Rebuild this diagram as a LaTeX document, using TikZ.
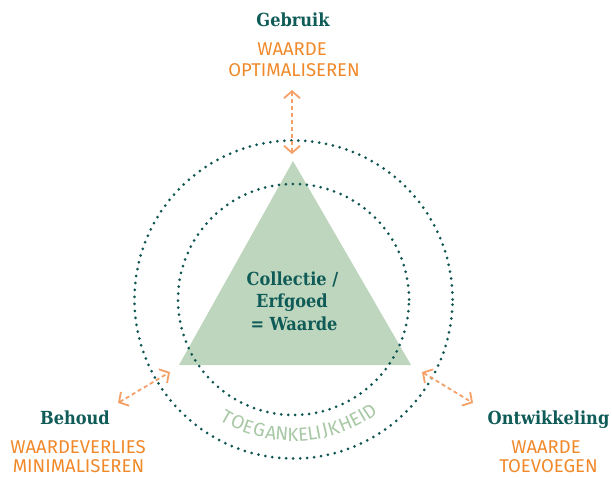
\documentclass[tikz,border=0pt]{standalone}
\usepackage{fontspec}
\setmainfont{DejaVu Serif}
\newfontfamily\headserif{DejaVu Serif Condensed}
\newfontfamily\labelsans{Fira Sans}
\usetikzlibrary{arrows.meta}
\definecolor{tealdk}{HTML}{0F5B57}
\definecolor{dotcol}{HTML}{0E5652}
\definecolor{orangetxt}{HTML}{F0892A}
\definecolor{arrowcol}{HTML}{F4A068}
\definecolor{trifill}{HTML}{BFD6BE}
\definecolor{ringtxt}{HTML}{A8C8A5}
\begin{document}
\begin{tikzpicture}[x=1pt,y=1pt,
  head/.style={font=\headserif\bfseries\fontsize{18}{21}\selectfont, text=tealdk, anchor=base, inner sep=0pt},
  sub/.style={font=\labelsans\fontsize{18.5}{22}\selectfont, text=orangetxt, anchor=base, inner sep=0pt},
  dotring/.style={draw=dotcol, line width=3pt, line cap=round, dash pattern=on 0pt off 7pt},
  twoway/.style={draw=arrowcol, line width=1.8pt, dash pattern=on 4pt off 3pt,
    {Straight Barb[length=7pt,width=16pt]}-{Straight Barb[length=7pt,width=16pt]}},
  ringletter/.style={font=\labelsans\fontsize{19}{22}\selectfont, text=ringtxt, inner sep=0pt, anchor=center}
]
\useasboundingbox (0,0) rectangle (612,477);
\coordinate (c) at (293.5,177.5);
% triangle
\coordinate (apex) at (293,316);
\coordinate (bl) at (179,112);
\coordinate (br) at (411,112);
\fill[trifill] (apex) -- (bl) -- (br) -- cycle;
% rings
\draw[dotring] (c) circle[radius=159];
\draw[dotring] (c) circle[radius=115.5];
% center text
\node[head] (ct1) at (292.5,192) {Collectie /};
\node[head] (ct2) at (292,170) {Erfgoed};
\node[head] (ct3) at (294,147) {= Waarde};
% top label
\node[head] (gebruik) at (293,450) {Gebruik};
\node[sub] (g1) at (292,421) {WAARDE};
\node[sub] (g2) at (294,400) {OPTIMALISEREN};
% left label
\node[head] (behoud) at (75,53) {Behoud};
\node[sub] (b1) at (78,24) {WAARDEVERLIES};
\node[sub] (b2) at (78.5,5) {MINIMALISEREN};
% right label
\node[head] (ontw) at (548.5,53) {Ontwikkeling};
\node[sub] (o1) at (546,24) {WAARDE};
\node[sub] (o2) at (548.5,5) {TOEVOEGEN};
% arrows
\coordinate (ta) at (292,387);
\coordinate (tb) at (292,323);
\draw[twoway] (ta) -- (tb);
\coordinate (la) at (118,74);
\coordinate (lb) at (170,105);
\draw[twoway] (la) -- (lb);
\coordinate (ra) at (422,105);
\coordinate (rb) at (473,74);
\draw[twoway] (ra) -- (rb);
% curved label
\foreach \ch/\a [count=\i] in {T/-119.7,O/-114.2,E/-109.6,G/-104.7,A/-99.6,N/-94.9,K/-90.2,E/-85.9,L/-82.1,I/-79.4,J/-76.4,K/-72.8,H/-67.4,E/-62.8,I/-59.5,D/-55.8}
  \node[ringletter, rotate=\a+90] (ring\i) at ([shift={(\a:135)}]c) {\ch};
\end{tikzpicture}
\end{document}
